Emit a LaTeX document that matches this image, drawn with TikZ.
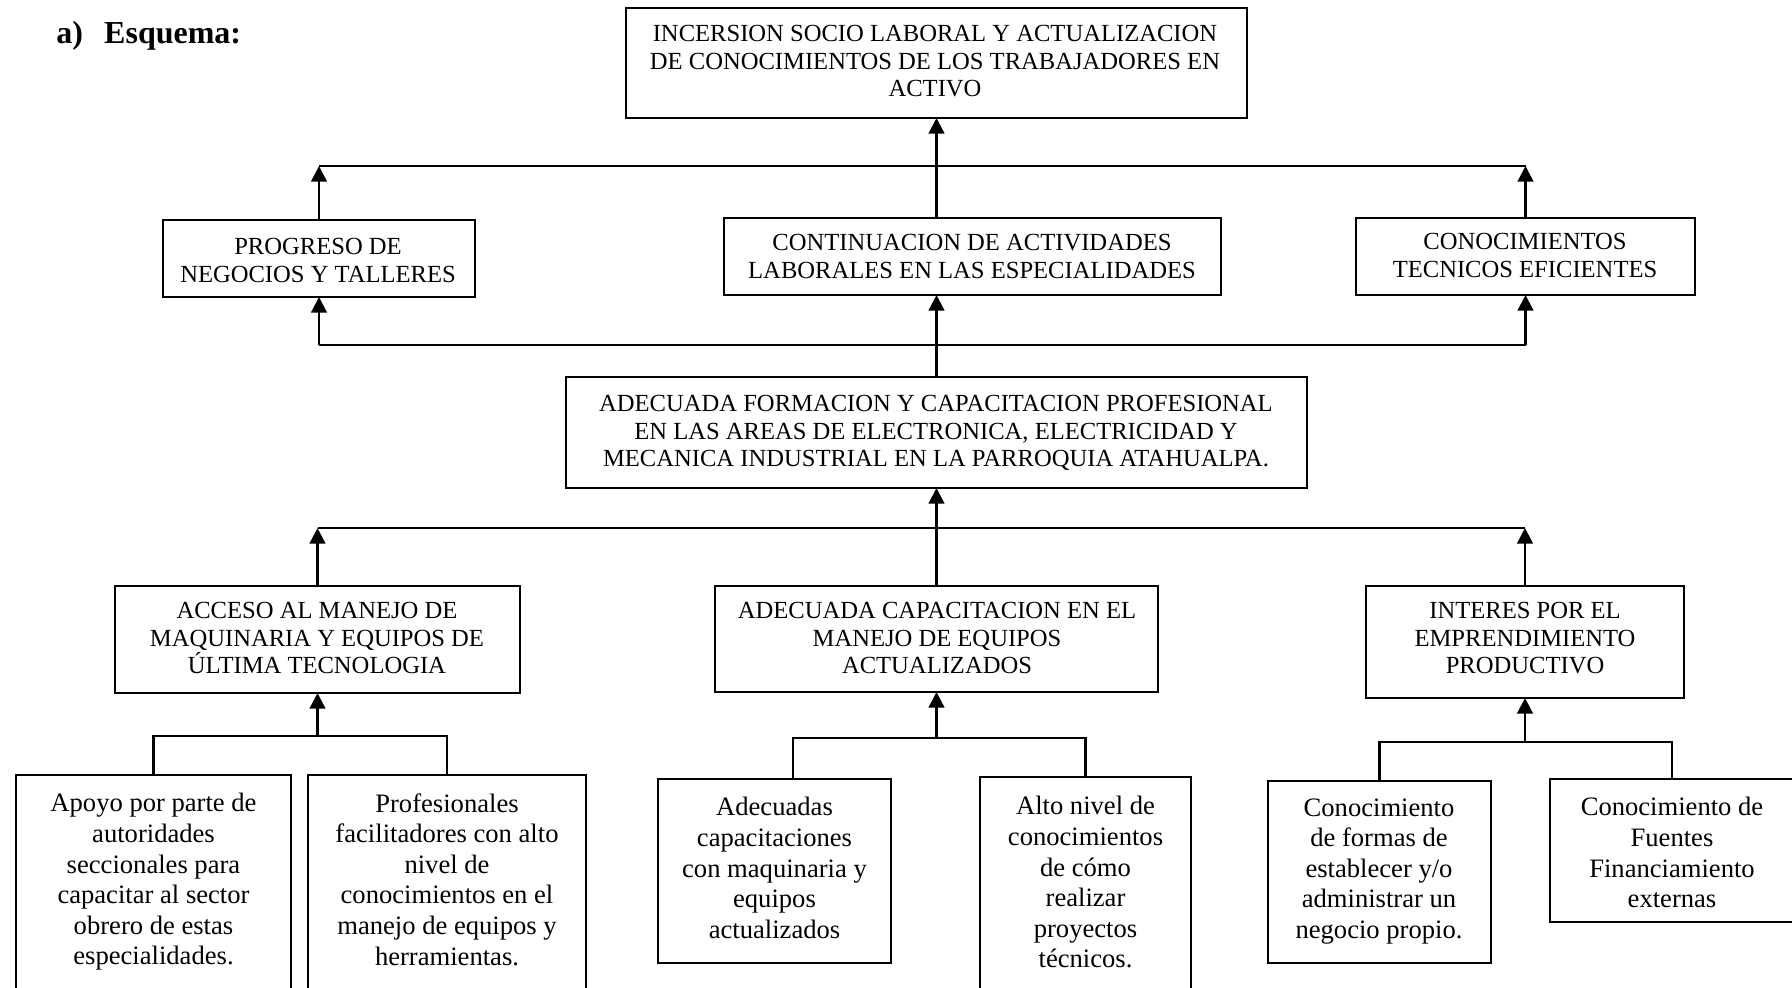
\documentclass[tikz,border=0pt]{standalone}
\usepackage{fontspec}
\setmainfont{Liberation Serif}
\usetikzlibrary{arrows.meta}
\begin{document}
\begin{tikzpicture}[x=0.5pt,y=-0.5pt,
  box/.style={draw, line width=1.1pt, inner sep=0pt, outer sep=0pt},
  capstxt/.style={anchor=north, inner sep=0pt, align=center, font=\fontsize{12.3}{13.8}\selectfont},
  lowtxt/.style={anchor=north, inner sep=0pt, align=center, font=\fontsize{13.3}{15.3}\selectfont},
  ln/.style={line width=1.1pt},
  arr/.style={line width=1.2pt, -{Triangle[width=7.8pt,length=7.8pt]}}]
\useasboundingbox (0,0) rectangle (1792,987);
\fill[white] (0,0) rectangle (1792,987);
\clip (0,0) rectangle (1792,987);

% title
\node[anchor=base west, inner sep=0pt, font=\fontsize{16}{19}\selectfont\bfseries] (title) at (56,43.5) {a)\hspace{10.6pt}Esquema:};

% boxes
\node[box, minimum width=310.5pt, minimum height=55pt] (top) at (936.5,63) {};
\node[box, minimum width=156pt, minimum height=38.5pt] (prog) at (319,258.5) {};
\node[box, minimum width=248.5pt, minimum height=38.5pt] (cont) at (972.5,256.5) {};
\node[box, minimum width=169.5pt, minimum height=38.5pt] (conoc) at (1525.5,256.5) {};
\node[box, minimum width=370.5pt, minimum height=55.5pt] (form) at (936.5,432.5) {};
\node[box, minimum width=202.5pt, minimum height=53.5pt] (acc) at (317.5,639.5) {};
\node[box, minimum width=221.5pt, minimum height=53pt] (cap) at (936.5,639) {};
\node[box, minimum width=159pt, minimum height=56pt] (int) at (1525,642) {};
\node[box, minimum width=137.5pt, minimum height=112.5pt] (apoyo) at (153.5,887.5) {};
\node[box, minimum width=139pt, minimum height=112.5pt] (prof) at (447,887.5) {};
\node[box, minimum width=116.5pt, minimum height=92pt] (adec) at (774.5,871) {};
\node[box, minimum width=105.5pt, minimum height=111.5pt] (alto) at (1085.5,888.5) {};
\node[box, minimum width=111.5pt, minimum height=91pt] (con1) at (1379.5,872) {};
\node[box, minimum width=125pt, minimum height=71.5pt] (con2) at (1675,850.5) {};

% texts
\node[capstxt] (ttop) at (935,25) {INCERSION SOCIO LABORAL Y ACTUALIZACION\\DE CONOCIMIENTOS DE LOS TRABAJADORES EN\\ACTIVO};
\node[capstxt] (tprog) at (318,238) {PROGRESO DE\\NEGOCIOS Y TALLERES};
\node[capstxt] (tcont) at (972,234) {CONTINUACION DE ACTIVIDADES\\LABORALES EN LAS ESPECIALIDADES};
\node[capstxt] (tconoc) at (1525,233) {CONOCIMIENTOS\\TECNICOS EFICIENTES};
\node[capstxt] (tform) at (936,395) {ADECUADA FORMACION Y CAPACITACION PROFESIONAL\\EN LAS AREAS DE ELECTRONICA, ELECTRICIDAD Y\\MECANICA INDUSTRIAL EN LA PARROQUIA ATAHUALPA.};
\node[capstxt] (tacc) at (317,602) {ACCESO AL MANEJO DE\\MAQUINARIA Y EQUIPOS DE\\ÚLTIMA TECNOLOGIA};
\node[capstxt] (tcap) at (937,602) {ADECUADA CAPACITACION EN EL\\MANEJO DE EQUIPOS\\ACTUALIZADOS};
\node[capstxt] (tint) at (1525,602) {INTERES POR EL\\EMPRENDIMIENTO\\PRODUCTIVO};
\node[lowtxt] (tapoyo) at (153.5,793) {Apoyo por parte de\\autoridades\\seccionales para\\capacitar al sector\\obrero de estas\\especialidades.};
\node[lowtxt] (tprof) at (447,793) {Profesionales\\facilitadores con alto\\nivel de\\conocimientos en el\\manejo de equipos y\\herramientas.};
\node[lowtxt] (tadec) at (774.5,797) {Adecuadas\\capacitaciones\\con maquinaria y\\equipos\\actualizados};
\node[lowtxt] (talto) at (1085.5,796) {Alto nivel de\\conocimientos\\de cómo\\realizar\\proyectos\\técnicos.};
\node[lowtxt] (tcon1) at (1379,798) {Conocimiento\\de formas de\\establecer y/o\\administrar un\\negocio propio.};
\node[lowtxt] (tcon2) at (1672,797) {Conocimiento de\\Fuentes\\Financiamiento\\externas};

% row 2 -> top
\coordinate (j1) at (936.5,166);
\draw[arr] (prog.north) -- (prog.north |- j1);
\draw[arr] (conoc.north) -- (conoc.north |- j1);
\draw[ln] (prog.north |- j1) -- (conoc.north |- j1);
\draw[arr] (j1 |- cont.north) -- (top.south);

% middle -> row 2
\coordinate (j2) at (936.5,345);
\draw[ln] (form.north) -- (j2);
\draw[ln] (prog.south |- j2) -- (conoc.south |- j2);
\draw[arr] (prog.south |- j2) -- (prog.south);
\draw[arr] (j2) -- (j2 |- cont.south);
\draw[arr] (conoc.south |- j2) -- (conoc.south);

% row 3 -> middle
\coordinate (j3) at (936.5,528);
\draw[arr] (cap.north) -- (form.south);
\draw[arr] (acc.north) -- (acc.north |- j3);
\draw[arr] (int.north) -- (int.north |- j3);
\draw[ln] (acc.north |- j3) -- (int.north |- j3);

% bottom brackets
\coordinate (ja) at (317.5,736);
\draw[ln] (apoyo.north) |- (ja) -| (prof.north);
\draw[arr] (ja) -- (acc.south);
\coordinate (jb) at (936.5,738);
\draw[ln] ([xshift=9.25pt]adec.north) |- (jb) -| (alto.north);
\draw[arr] (jb) -- (cap.south);
\coordinate (jc) at (1525,742);
\draw[ln] (con1.north) |- (jc) -| ([xshift=-1.5pt]con2.north);
\draw[arr] (jc) -- (int.south);
\end{tikzpicture}
\end{document}
